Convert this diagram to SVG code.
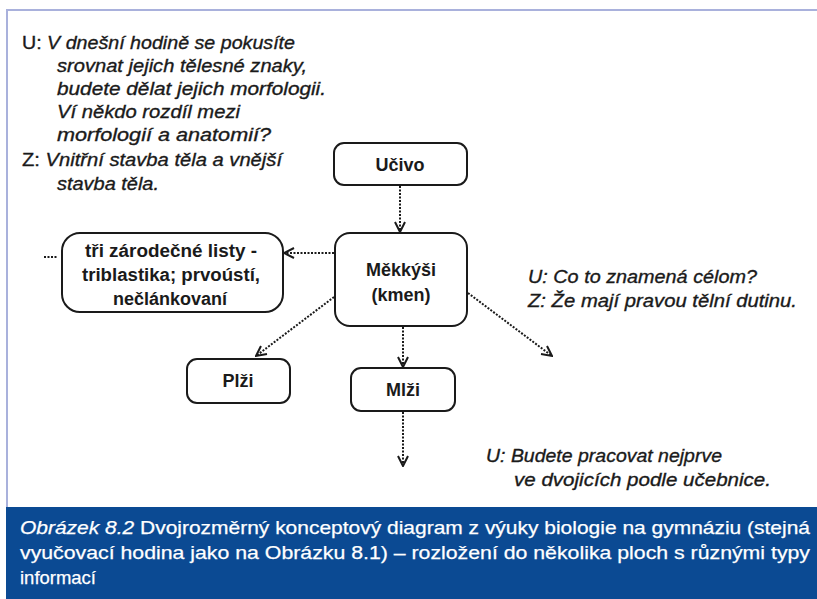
<svg xmlns="http://www.w3.org/2000/svg" width="817" height="599" viewBox="0 0 817 599">
<style>
.box{fill:#fff;stroke:#1a1a1a;stroke-width:2}
.lbl{font-family:"Liberation Sans",Arial,sans-serif;font-weight:bold;font-size:18px;fill:#1a1a1a;text-anchor:middle}
.t{font-family:"Liberation Sans",Arial,sans-serif;font-size:19px;fill:#1a1a1a;stroke:#1a1a1a;stroke-width:0.35}
.i{font-style:italic}
.con{fill:none;stroke:#1a1a1a;stroke-width:2;stroke-dasharray:2 1.5}
.cap{font-family:"Liberation Sans",Arial,sans-serif;font-size:19px;fill:#fff;stroke:#fff;stroke-width:0.25}
</style>
<defs>
<marker id="ah" viewBox="0 0 12 12" refX="11" refY="6" markerWidth="12" markerHeight="12" markerUnits="userSpaceOnUse" orient="auto">
<path d="M1 1 L11 6 L1 11" fill="none" stroke="#1a1a1a" stroke-width="2"/>
</marker>
</defs>
<rect width="817" height="599" fill="#fff"/>
<path d="M7 507 V10 H817" fill="none" stroke="#a9b1dc" stroke-width="2"/>

<g id="dialog-top" class="t">
<text x="22" y="49" textLength="273" lengthAdjust="spacingAndGlyphs">U: <tspan class="i">V dnešní hodině se pokusíte</tspan></text>
<text x="57" y="72" class="i" textLength="250" lengthAdjust="spacingAndGlyphs">srovnat jejich tělesné znaky,</text>
<text x="57" y="95" class="i" textLength="269" lengthAdjust="spacingAndGlyphs">budete dělat jejich morfologii.</text>
<text x="57" y="118" class="i" textLength="183" lengthAdjust="spacingAndGlyphs">Ví někdo rozdíl mezi</text>
<text x="57" y="141" class="i" textLength="214" lengthAdjust="spacingAndGlyphs">morfologií a anatomií?</text>
<text x="22" y="166" textLength="260" lengthAdjust="spacingAndGlyphs">Z: <tspan class="i">Vnitřní stavba těla a vnější</tspan></text>
<text x="57" y="190" class="i" textLength="102" lengthAdjust="spacingAndGlyphs">stavba těla.</text>
</g>

<g id="dialog-right" class="t i">
<text x="528" y="283" textLength="229" lengthAdjust="spacingAndGlyphs">U: Co to znamená célom?</text>
<text x="528" y="307" textLength="269" lengthAdjust="spacingAndGlyphs">Z: Že mají pravou tělní dutinu.</text>
</g>

<g id="dialog-bottom" class="t i">
<text x="486" y="462" textLength="236" lengthAdjust="spacingAndGlyphs">U: Budete pracovat nejprve</text>
<text x="514" y="486" textLength="257" lengthAdjust="spacingAndGlyphs">ve dvojicích podle učebnice.</text>
</g>

<g id="connectors">
<line class="con" x1="400" y1="186" x2="400" y2="232" marker-end="url(#ah)"/>
<line class="con" x1="334" y1="253" x2="284" y2="253" marker-end="url(#ah)"/>
<line class="con" x1="44" y1="257" x2="58" y2="257"/>
<line class="con" x1="334" y1="297" x2="256" y2="356" marker-end="url(#ah)"/>
<line class="con" x1="403" y1="327" x2="403" y2="367" marker-end="url(#ah)"/>
<line class="con" x1="468" y1="293" x2="552" y2="356" marker-end="url(#ah)"/>
<line class="con" x1="403" y1="412" x2="403" y2="466" marker-end="url(#ah)"/>
</g>

<g id="ucivo">
<rect class="box" x="334" y="143" width="133" height="42" rx="10"/>
<text class="lbl" x="400" y="171">Učivo</text>
</g>
<g id="mekkysi">
<rect class="box" x="335" y="233" width="132" height="93" rx="15"/>
<text class="lbl" x="401" y="276">Měkkýši</text>
<text class="lbl" x="401" y="301">(kmen)</text>
</g>
<g id="zarodecne">
<rect class="box" x="62" y="233" width="221" height="79" rx="18"/>
<text class="lbl" x="171" y="257" textLength="172" lengthAdjust="spacingAndGlyphs">tři zárodečné listy -</text>
<text class="lbl" x="171" y="281" textLength="178" lengthAdjust="spacingAndGlyphs">triblastika; prvoústí,</text>
<text class="lbl" x="170" y="305" textLength="114" lengthAdjust="spacingAndGlyphs">nečlánkovaní</text>
</g>
<g id="plzi">
<rect class="box" x="187" y="359" width="103" height="44" rx="10"/>
<text class="lbl" x="238" y="387">Plži</text>
</g>
<g id="mlzi">
<rect class="box" x="351" y="368" width="104" height="43" rx="10"/>
<text class="lbl" x="403" y="396">Mlži</text>
</g>

<g id="caption">
<rect x="6" y="507" width="811" height="92" fill="#0b4a93"/>
<text class="cap" x="20" y="534" textLength="790" lengthAdjust="spacingAndGlyphs"><tspan font-style="italic">Obrázek 8.2</tspan> Dvojrozměrný konceptový diagram z výuky biologie na gymnáziu (stejná</text>
<text class="cap" x="20" y="559" textLength="790" lengthAdjust="spacingAndGlyphs">vyučovací hodina jako na Obrázku 8.1) – rozložení do několika ploch s různými typy</text>
<text class="cap" x="20" y="584" textLength="76" lengthAdjust="spacingAndGlyphs">informací</text>
</g>
</svg>
